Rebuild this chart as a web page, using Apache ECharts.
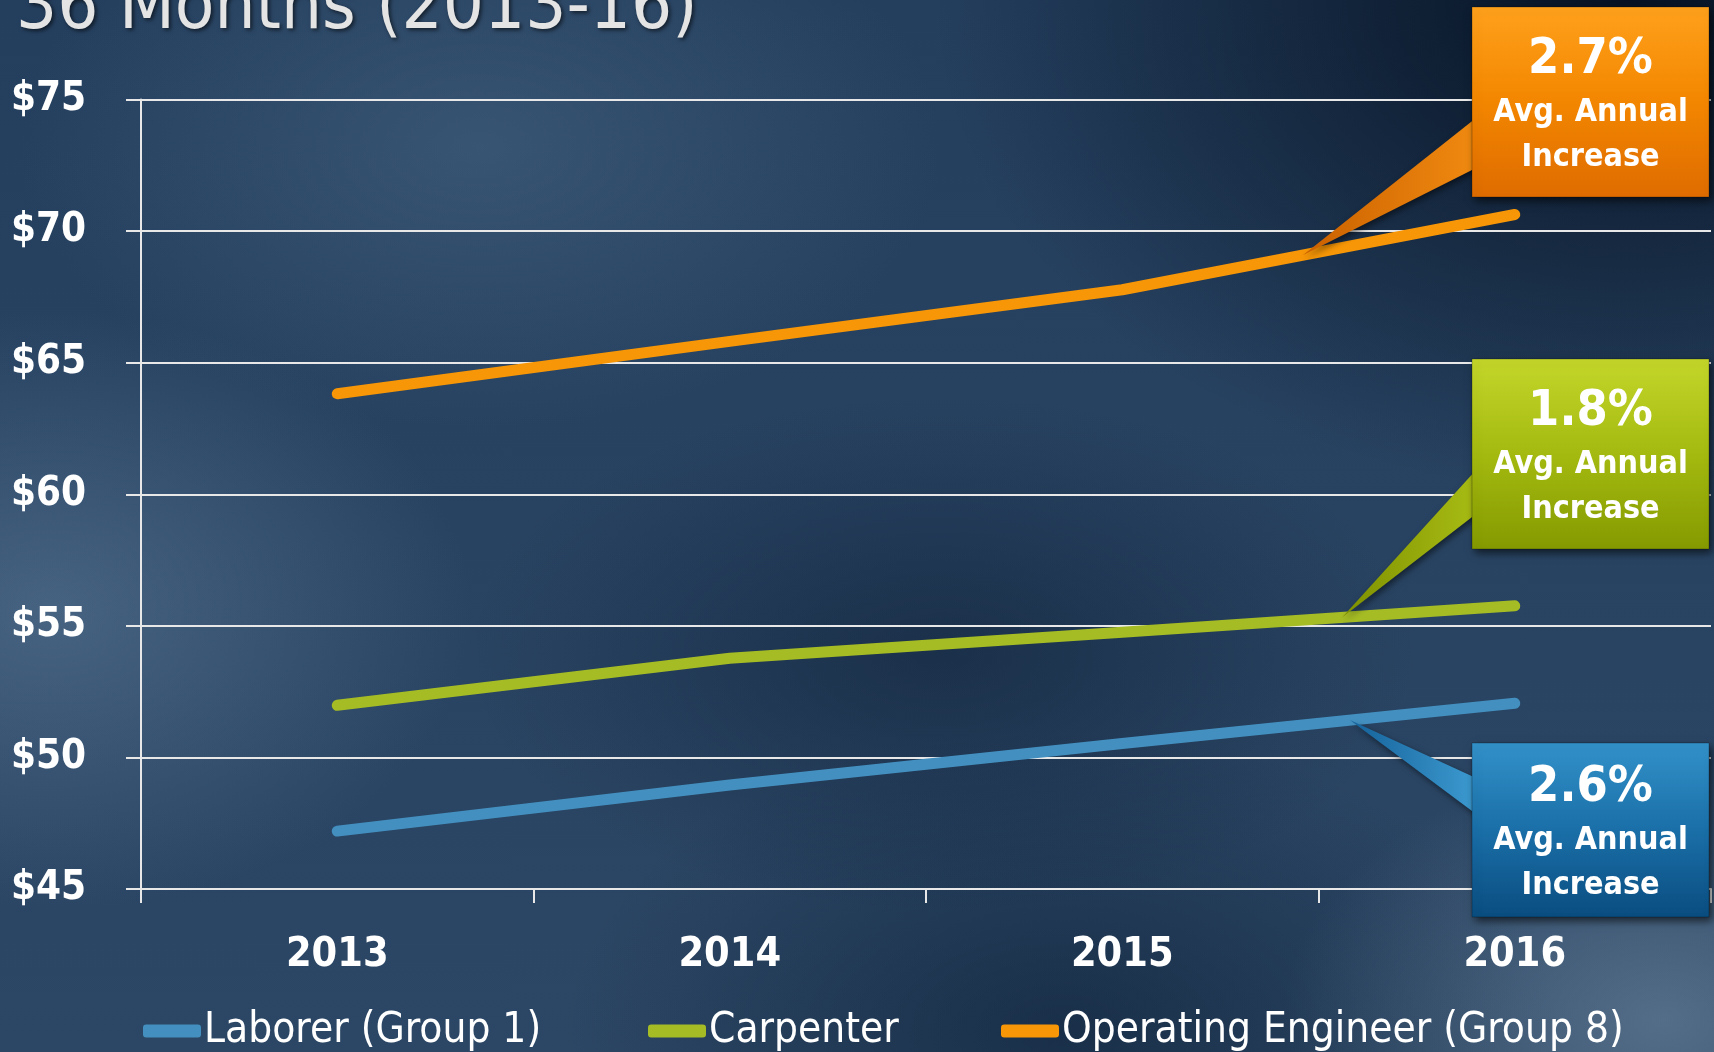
<!DOCTYPE html>
<html>
<head>
<meta charset="utf-8">
<script src="https://cdn.jsdelivr.net/npm/echarts@6/dist/echarts.min.js"></script>
<style>
html,body{margin:0;padding:0;width:1714px;height:1052px;overflow:hidden;}
body{
background:
 radial-gradient(ellipse 420px 300px at 3% 58%, rgba(95,125,155,0.55), rgba(95,125,155,0) 100%),
 radial-gradient(ellipse 460px 280px at 28% 14%, rgba(80,110,140,0.45), rgba(80,110,140,0) 100%),
 radial-gradient(ellipse 380px 260px at 97% 97%, rgba(110,135,160,0.6), rgba(110,135,160,0) 100%),
 radial-gradient(ellipse 700px 500px at 95% 0%, rgba(5,16,32,0.95), rgba(5,16,32,0) 100%),
 radial-gradient(ellipse 480px 260px at 55% 62%, rgba(12,28,50,0.5), rgba(12,28,50,0) 100%),
 radial-gradient(ellipse 500px 300px at 62% 98%, rgba(10,28,50,0.55), rgba(10,28,50,0) 100%),
 linear-gradient(180deg, #243f5e 0%, #2c4765 100%);
}
#c{width:1714px;height:1052px;}
</style>
</head>
<body>
<div id="c"></div>
<script>
var FONT = "'Liberation Sans Narrow', 'DejaVu Sans Condensed', 'Noto Sans', sans-serif";
var categories = ['2013', '2014', '2015', '2016'];
var laborer = [47.2, 48.95, 50.53, 52.06];
var carpenter = [51.98, 53.77, 54.76, 55.76];
var engineer = [63.82, 65.81, 67.77, 70.63];
var seriesNames = ['Laborer (Group 1)', 'Carpenter', 'Operating Engineer (Group 8)'];
var seriesColors = ['#4390c0', '#a5bc24', '#f79606'];
var yTicks = { min: 45, max: 75, interval: 5 };
var calloutPct = ['2.6%', '1.8%', '2.7%'];
var calloutSub = ['Avg. Annual', 'Increase'];

var chart = echarts.init(document.getElementById('c'), null, {renderer: 'canvas'});

function legendAt(name, left) {
  return {
    data: [name], left: left, top: 1005, icon: 'roundRect',
    itemWidth: 58, itemHeight: 13,
    textStyle: {color: '#ffffff', fontSize: 42, fontFamily: FONT, padding: [0,0,0,-2]}
  };
}

var option = {
  backgroundColor: 'transparent',
  animation: false,
  legend: [legendAt(seriesNames[0], 138), legendAt(seriesNames[1], 643), legendAt(seriesNames[2], 996)],
  grid: {left: 141, right: 3, top: 99.5, bottom: 163, containLabel: false},
  xAxis: {
    type: 'category', data: categories, boundaryGap: true,
    axisLine: {show: true, lineStyle: {color: '#e8e8e8', width: 2}},
    axisTick: {show: true, length: 14, lineStyle: {color: '#e8e8e8', width: 2}},
    axisLabel: {color: '#ffffff', fontSize: 41, fontWeight: 'bold', fontFamily: FONT, margin: 46}
  },
  yAxis: {
    type: 'value', min: yTicks.min, max: yTicks.max, interval: yTicks.interval,
    axisLine: {show: true, lineStyle: {color: '#e8e8e8', width: 2}},
    axisTick: {show: true, length: 15, lineStyle: {color: '#e8e8e8', width: 2}},
    splitLine: {show: true, lineStyle: {color: '#e8e8e8', width: 2}},
    axisLabel: {color: '#ffffff', fontSize: 40, fontWeight: 'bold', fontFamily: FONT, margin: 55,
      formatter: function (v) { return '$' + v; }}
  },
  series: [
    {name: seriesNames[0], type: 'line', data: laborer, showSymbol: false, symbol: 'none',
     color: seriesColors[0], lineStyle: {width: 11, cap: 'round', join: 'round', color: seriesColors[0]}},
    {name: seriesNames[1], type: 'line', data: carpenter, showSymbol: false, symbol: 'none',
     color: seriesColors[1], lineStyle: {width: 11, cap: 'round', join: 'round', color: seriesColors[1]}},
    {name: seriesNames[2], type: 'line', data: engineer, showSymbol: false, symbol: 'none',
     color: seriesColors[2], lineStyle: {width: 11, cap: 'round', join: 'round', color: seriesColors[2]}}
  ]
};
chart.setOption(option);

// Callouts: tip positions derived from the data through the chart's own scales
function tipOn(seriesIdx, values, frac) {
  var a = chart.convertToPixel({seriesIndex: seriesIdx}, [2, values[2]]);
  var b = chart.convertToPixel({seriesIndex: seriesIdx}, [3, values[3]]);
  return [a[0] + (b[0] - a[0]) * frac, a[1] + (b[1] - a[1]) * frac];
}

var boxX = 1472, boxW = 237;
var callouts = [
  {tip: tipOn(2, engineer, 0.46), top: 7, h: 190, baseY: [118, 168],
   grad: ['#ffa11c', '#f38600', '#de6c00'], ptr: ['#f08a10', '#c96000'], pct: calloutPct[2]},
  {tip: tipOn(1, carpenter, 0.56), top: 359, h: 190, baseY: [470, 514],
   grad: ['#c4d62a', '#a4ba10', '#859a00'], ptr: ['#a8bc14', '#7e9000'], pct: calloutPct[1]},
  {tip: tipOn(0, laborer, 0.58), top: 743, h: 174, baseY: [778, 814],
   grad: ['#3391c9', '#1a6fa8', '#0a4d80'], ptr: ['#3c9ad0', '#15629a'], pct: calloutPct[0]}
];

var graphics = [];
// title (partly off the top, as in the reference)
graphics.push({
  type: 'text', left: 16, top: -27, silent: true,
  style: {text: '36 Months (2013-16)', fill: '#e4e4e4', fontSize: 72, fontFamily: FONT,
    textShadowColor: 'rgba(0,0,0,0.6)', textShadowBlur: 4, textShadowOffsetX: 2, textShadowOffsetY: 2}
});
callouts.forEach(function (c) {
  graphics.push({
    type: 'polygon', silent: true, z: 10,
    shape: {points: [[c.tip[0], c.tip[1]], [boxX + 4, c.baseY[0]], [boxX + 4, c.baseY[1]]]},
    style: {fill: new echarts.graphic.LinearGradient(0, 0, 1, 0, [{offset: 0, color: c.ptr[1]}, {offset: 1, color: c.ptr[0]}]),
      shadowColor: 'rgba(0,0,0,0.5)', shadowBlur: 6, shadowOffsetX: 2, shadowOffsetY: 3}
  });
  graphics.push({
    type: 'rect', silent: true, z: 11,
    shape: {x: boxX, y: c.top, width: boxW, height: c.h},
    style: {fill: new echarts.graphic.LinearGradient(0, 0, 0, 1, [
        {offset: 0, color: c.grad[0]}, {offset: 0.5, color: c.grad[1]}, {offset: 1, color: c.grad[2]}]),
      stroke: 'rgba(0,0,0,0.25)', lineWidth: 1,
      shadowColor: 'rgba(0,0,0,0.6)', shadowBlur: 8, shadowOffsetX: 3, shadowOffsetY: 4}
  });
  var cx = boxX + boxW / 2;
  var lineTop = c.top + (c.h === 190 ? 28 : 20);
  graphics.push({type: 'text', silent: true, z: 12, x: cx, y: lineTop,
    style: {text: c.pct, fill: '#ffffff', fontSize: 50, fontWeight: 'bold', fontFamily: FONT, align: 'center', verticalAlign: 'top'}});
  graphics.push({type: 'text', silent: true, z: 12, x: cx, y: lineTop + 62,
    style: {text: calloutSub[0], fill: '#ffffff', fontSize: 32, fontWeight: 'bold', fontFamily: FONT, align: 'center', verticalAlign: 'top'}});
  graphics.push({type: 'text', silent: true, z: 12, x: cx, y: lineTop + 107,
    style: {text: calloutSub[1], fill: '#ffffff', fontSize: 32, fontWeight: 'bold', fontFamily: FONT, align: 'center', verticalAlign: 'top'}});
});
chart.setOption({graphic: graphics});
</script>
</body>
</html>
